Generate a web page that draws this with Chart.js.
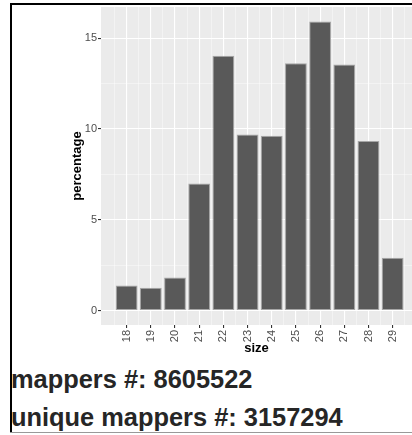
<!DOCTYPE html>
<html>
<head>
<meta charset="utf-8">
<script src="https://cdn.jsdelivr.net/npm/chart.js@4.4.1/dist/chart.umd.min.js"></script>
<style>
  html, body { margin: 0; padding: 0; background: #fff; overflow: hidden; }
  body { width: 412px; height: 435px; position: relative; }
  .rule { position: absolute; z-index: 2; pointer-events: none; }
  #chart { position: absolute; left: 0; top: 0; z-index: 1; }
  .note {
    position: absolute; left: 11px; font: bold 25.4px "Liberation Sans", Arial, sans-serif;
    line-height: 25px; color: #262626; white-space: nowrap;
  }
</style>
</head>
<body>
<div class="rule" style="left:10px; top:3px; width:402px; height:2px; background:#000"></div>
<div class="rule" style="left:10px; top:3px; width:2px; height:430px; background:#000"></div>
<div class="rule" style="left:10px; top:432px; width:402px; height:1px; background:#999"></div>
<canvas id="chart" width="412" height="360"></canvas>
<div class="note" style="top:367px">mappers #: 8605522</div>
<div class="note" style="top:405px">unique mappers #: 3157294</div>
<script>
  const sizes = [18, 19, 20, 21, 22, 23, 24, 25, 26, 27, 28, 29];
  const percentages = [1.38, 1.25, 1.82, 7.0, 14.03, 9.69, 9.63, 13.62, 15.92, 13.55, 9.34, 2.90];
  const yTicks = [0, 5, 10, 15];

  // ggplot grey panel behind the grid
  const panelBg = {
    id: 'panelBg',
    beforeDraw(chart) {
      const { ctx, chartArea } = chart;
      ctx.save();
      ctx.fillStyle = '#EBEBEB';
      ctx.fillRect(chartArea.left, chartArea.top, chartArea.right - chartArea.left, chartArea.bottom - chartArea.top);
      ctx.restore();
    }
  };

  const isMajor = (c, step) => {
    if (!c.tick) return false;
    const v = c.tick.value;
    return Math.abs(v / step - Math.round(v / step)) < 1e-6;
  };
  const onStep = (v, step) => Math.abs(v / step - Math.round(v / step)) < 1e-6;

  const font = { family: '"Liberation Sans", Arial, sans-serif', size: 11 };
  const titleFont = { family: '"Liberation Sans", Arial, sans-serif', size: 13, weight: 'bold' };

  const ctx = document.getElementById('chart').getContext('2d');
  new Chart(ctx, {
    type: 'bar',
    data: {
      datasets: [{
        data: sizes.map((s, i) => ({ x: s, y: percentages[i] })),
        backgroundColor: '#595959',
        borderColor: '#A6A6A6',
        borderWidth: 1,
        borderSkipped: false,
        // ticks every 0.5 set the sample size, so 1.8 gives bars 0.9 wide
        barPercentage: 1.8,
        categoryPercentage: 1.0,
      }]
    },
    options: {
      responsive: false,
      animation: false,
      devicePixelRatio: 1,
      layout: { padding: { top: 7, right: 0, left: 0, bottom: 0 } },
      plugins: { legend: { display: false }, tooltip: { enabled: false } },
      scales: {
        x: {
          type: 'linear',
          offset: false,
          min: 16.94,
          max: 29.8,
          afterBuildTicks(scale) {
            const t = [];
            for (let v = 17.5; v <= 29.5; v += 0.5) t.push({ value: v });
            scale.ticks = t;
          },
          afterFit(scale) {
            scale.height = 35;
            scale.paddingLeft = 0;
            scale.paddingRight = 0;
          },
          grid: {
            offset: false,
            color: c => isMajor(c, 1) ? '#FFFFFF' : 'rgba(255,255,255,0.65)',
            lineWidth: c => isMajor(c, 1) ? 1.1 : 0.6,
            tickColor: c => isMajor(c, 1) ? '#333333' : 'rgba(0,0,0,0)',
            tickLength: 3,
          },
          border: { display: false },
          ticks: {
            autoSkip: false,
            minRotation: 90,
            maxRotation: 90,
            padding: 2,
            color: '#4D4D4D',
            font: font,
            callback: v => onStep(v, 1) && sizes.includes(Math.round(v)) ? String(Math.round(v)) : '',
          },
          title: {
            display: true,
            text: 'size',
            color: '#000',
            padding: { top: 0, bottom: 4 },
            font: titleFont,
          },
        },
        y: {
          type: 'linear',
          min: -0.8,
          max: 16.72,
          afterBuildTicks(scale) {
            const t = [];
            for (let v = 0; v <= 15; v += 2.5) t.push({ value: v });
            scale.ticks = t;
          },
          afterFit(scale) {
            scale.width = 101;
            scale.paddingTop = 0;
            scale.paddingBottom = 0;
          },
          grid: {
            color: c => isMajor(c, 5) ? '#FFFFFF' : 'rgba(255,255,255,0.65)',
            lineWidth: c => isMajor(c, 5) ? 1.1 : 0.6,
            tickColor: c => isMajor(c, 5) ? '#333333' : 'rgba(0,0,0,0)',
            tickLength: 3,
          },
          border: { display: false },
          ticks: {
            padding: 1,
            color: '#4D4D4D',
            font: font,
            callback: v => yTicks.includes(v) ? String(v) : '',
          },
          title: {
            display: true,
            text: 'percentage',
            color: '#000',
            padding: { top: 70, bottom: 0 },
            font: titleFont,
          },
        }
      }
    },
    plugins: [panelBg]
  });
</script>
</body>
</html>
